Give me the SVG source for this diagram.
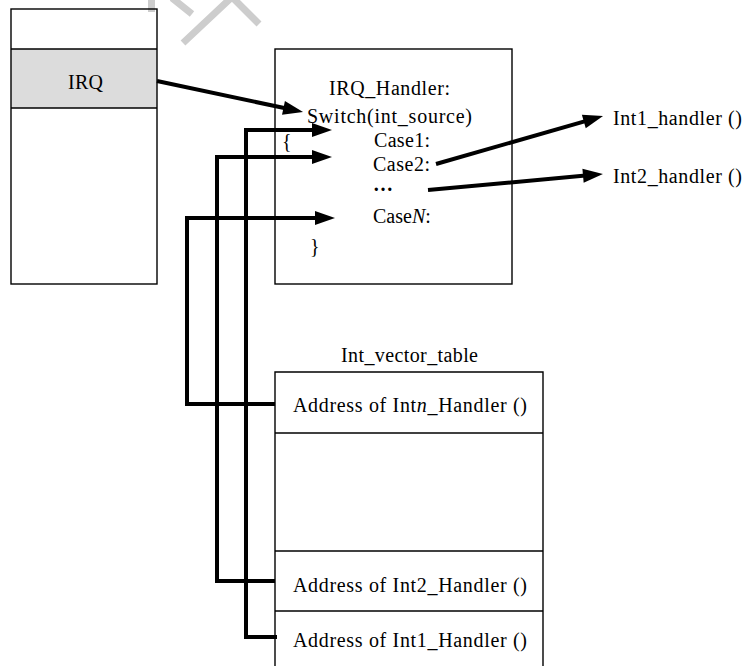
<svg xmlns="http://www.w3.org/2000/svg" width="745" height="666" viewBox="0 0 745 666">
  <style>
    .box { fill: none; stroke: #000; stroke-width: 1.4; }
    .t { font-family: "Liberation Serif", "Times New Roman", serif; font-size: 20px; fill: #000; }
    .wire { fill: none; stroke: #000; stroke-width: 4; stroke-linejoin: miter; stroke-linecap: butt; }
    .faint { fill: none; stroke: #cdcdcd; stroke-width: 7; stroke-linecap: butt; }
  </style>
  <defs>
    <marker id="head" markerUnits="userSpaceOnUse" markerWidth="20" markerHeight="14" refX="8" refY="7" orient="auto" overflow="visible">
      <path d="M0,0 L20,7 L0,14 z" fill="#000"/>
    </marker>
  </defs>

  <rect width="745" height="666" fill="#fff"/>

  <!-- light grey background strokes -->
  <g id="bg-marks">
    <line class="faint" x1="151.5" y1="0" x2="151.5" y2="12" stroke-width="4"/>
    <line class="faint" x1="172" y1="-2" x2="192" y2="14" stroke-width="6"/>
    <polyline class="faint" points="183,43 232,-3 259,24" stroke-width="7"/>
  </g>

  <!-- register stack with the IRQ slot -->
  <g id="irq-stack">
    <rect x="11" y="49" width="146" height="59" fill="#dcdcdc"/>
    <rect class="box" x="11" y="9" width="146" height="275"/>
    <line class="box" x1="11" y1="49" x2="157" y2="49"/>
    <line class="box" x1="11" y1="108" x2="157" y2="108"/>
    <text class="t" x="68" y="89" textLength="35">IRQ</text>
  </g>

  <!-- IRQ handler with its switch -->
  <g id="irq-handler">
    <rect class="box" x="275" y="49" width="237" height="235"/>
    <text class="t" x="329" y="95" textLength="121">IRQ_Handler:</text>
    <text class="t" x="307" y="123" textLength="165">Switch(int_source)</text>
    <text class="t" x="282" y="148">{</text>
    <text class="t" x="374" y="147" textLength="56">Case1:</text>
    <text class="t" x="373" y="171" textLength="57">Case2:</text>
    <text class="t" x="373" y="191" font-weight="bold">…</text>
    <text class="t" x="373" y="223">Case<tspan font-style="italic">N</tspan>:</text>
    <text class="t" x="310" y="253">}</text>
  </g>

  <!-- handler targets -->
  <g id="int1-handler">
    <text class="t" x="613" y="125" textLength="129">Int1_handler ()</text>
  </g>
  <g id="int2-handler">
    <text class="t" x="613" y="183" textLength="129">Int2_handler ()</text>
  </g>

  <!-- interrupt vector table -->
  <g id="int-vector-table">
    <text class="t" x="341" y="362" textLength="137">Int_vector_table</text>
    <path class="box" d="M275,668 V372 H543 V668"/>
    <line class="box" x1="275" y1="433" x2="543" y2="433"/>
    <line class="box" x1="275" y1="551" x2="543" y2="551"/>
    <line class="box" x1="275" y1="611" x2="543" y2="611"/>
    <text class="t" x="293" y="412" textLength="234">Address of Int<tspan font-style="italic">n</tspan>_Handler ()</text>
    <text class="t" x="293" y="592" textLength="234">Address of Int2_Handler ()</text>
    <text class="t" x="293" y="647" textLength="234">Address of Int1_Handler ()</text>
  </g>

  <!-- connectors -->
  <g id="connectors">
    <path class="wire" d="M157,81 L291.3,109.5" marker-end="url(#head)"/>
    <path class="wire" d="M436,164 L591.5,119.3" marker-end="url(#head)"/>
    <path class="wire" d="M428,190 L591,175.1" marker-end="url(#head)"/>
    <path class="wire" d="M277,637 H246 V130 H320" marker-end="url(#head)"/>
    <path class="wire" d="M275,581 H217 V157 H320" marker-end="url(#head)"/>
    <path class="wire" d="M275,404 H187 V218 H323" marker-end="url(#head)"/>
  </g>
</svg>
